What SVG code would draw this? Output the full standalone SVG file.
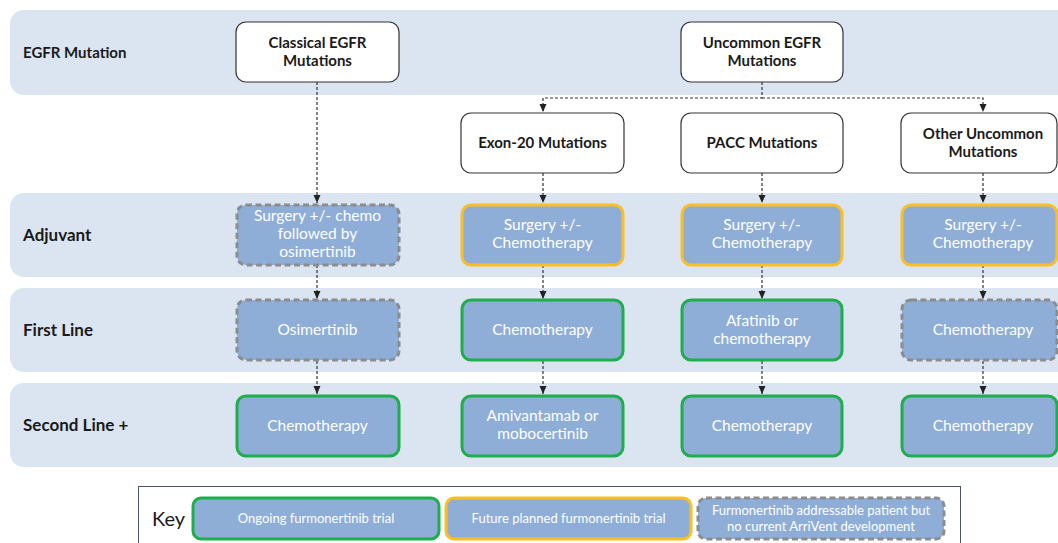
<svg xmlns="http://www.w3.org/2000/svg" width="1058" height="543" viewBox="0 0 1058 543">
<defs>
<style>
.band{fill:#dbe5f1}
.lbl{font-family:Lato,"Liberation Sans",sans-serif;font-weight:bold;fill:#1a1a1a}
.hdr{fill:#ffffff;stroke:#333333;stroke-width:1.2}
.htx{font-family:Lato,"Liberation Sans",sans-serif;font-weight:bold;font-size:15px;fill:#1a1a1a;text-anchor:middle}
.bx{fill:#8eaed8;stroke-width:3}
.g{stroke:#1fae4b}
.o{stroke:#fbbf24}
.d{stroke:#8c8c8c;stroke-dasharray:6 3.5}
.btx{font-family:Lato,"Liberation Sans",sans-serif;font-size:15.5px;fill:#ffffff;text-anchor:middle}
.ktx{font-family:Lato,"Liberation Sans",sans-serif;font-size:13px;fill:#ffffff;text-anchor:middle}
.con{fill:none;stroke:#333333;stroke-width:1.2;stroke-dasharray:3 2}
</style>
<marker id="ah" viewBox="0 0 8 8" refX="8" refY="4" markerWidth="8" markerHeight="8" markerUnits="userSpaceOnUse" orient="auto">
<path d="M0,0.5 L8,4 L0,7.5 z" fill="#222222"/>
</marker>
</defs>
<rect width="1058" height="543" fill="#ffffff"/>

<g id="bands">
<rect class="band" x="10" y="10" width="1070" height="85" rx="14"/>
<rect class="band" x="10" y="193" width="1070" height="84" rx="14"/>
<rect class="band" x="10" y="288" width="1070" height="84" rx="14"/>
<rect class="band" x="10" y="383" width="1070" height="84" rx="14"/>
<text class="lbl" x="23" y="58" font-size="15">EGFR Mutation</text>
<text class="lbl" x="23" y="241" font-size="17">Adjuvant</text>
<text class="lbl" x="23" y="336" font-size="17">First Line</text>
<text class="lbl" x="23" y="431" font-size="17">Second Line +</text>
</g>

<g id="connectors">
<path class="con" d="M317,82 V203" marker-end="url(#ah)"/>
<path class="con" d="M317,265 V299" marker-end="url(#ah)"/>
<path class="con" d="M317,361 V394" marker-end="url(#ah)"/>
<path class="con" d="M762,82 V98 H543 V112" marker-end="url(#ah)"/>
<path class="con" d="M762,98 H983 V112" marker-end="url(#ah)"/>
<path class="con" d="M543,173 V203" marker-end="url(#ah)"/>
<path class="con" d="M543,265 V299" marker-end="url(#ah)"/>
<path class="con" d="M543,361 V394" marker-end="url(#ah)"/>
<path class="con" d="M762,173 V203" marker-end="url(#ah)"/>
<path class="con" d="M762,265 V299" marker-end="url(#ah)"/>
<path class="con" d="M762,361 V394" marker-end="url(#ah)"/>
<path class="con" d="M983,173 V203" marker-end="url(#ah)"/>
<path class="con" d="M983,265 V299" marker-end="url(#ah)"/>
<path class="con" d="M983,361 V394" marker-end="url(#ah)"/>
</g>

<g id="classical">
<rect class="hdr" x="236" y="22" width="163" height="60" rx="10"/>
<text class="htx" x="317.5" y="48">Classical EGFR</text>
<text class="htx" x="317.5" y="66">Mutations</text>
</g>
<g id="uncommon">
<rect class="hdr" x="681" y="22" width="162" height="60" rx="10"/>
<text class="htx" x="762" y="48">Uncommon EGFR</text>
<text class="htx" x="762" y="66">Mutations</text>
</g>
<g id="exon20">
<rect class="hdr" x="461" y="113" width="163" height="60" rx="10"/>
<text class="htx" x="542.5" y="148">Exon-20 Mutations</text>
</g>
<g id="pacc">
<rect class="hdr" x="681" y="113" width="162" height="60" rx="10"/>
<text class="htx" x="762" y="148">PACC Mutations</text>
</g>
<g id="other">
<rect class="hdr" x="901" y="113" width="156" height="60" rx="10"/>
<text class="htx" x="983" y="139">Other Uncommon</text>
<text class="htx" x="983" y="157">Mutations</text>
</g>

<g id="c1-adj">
<rect class="bx d" x="237" y="205" width="162" height="60" rx="9"/>
<text class="btx" x="317.5" y="221">Surgery +/- chemo</text>
<text class="btx" x="317.5" y="239">followed by</text>
<text class="btx" x="317.5" y="257">osimertinib</text>
</g>
<g id="c1-first">
<rect class="bx d" x="237" y="300" width="162" height="60" rx="9"/>
<text class="btx" x="317.5" y="335">Osimertinib</text>
</g>
<g id="c1-second">
<rect class="bx g" x="237" y="396" width="162" height="60" rx="9"/>
<text class="btx" x="317.5" y="431">Chemotherapy</text>
</g>

<g id="c2-adj">
<rect class="bx o" x="462" y="205" width="161" height="60" rx="9"/>
<text class="btx" x="542.5" y="230">Surgery +/-</text>
<text class="btx" x="542.5" y="248">Chemotherapy</text>
</g>
<g id="c2-first">
<rect class="bx g" x="462" y="300" width="161" height="60" rx="9"/>
<text class="btx" x="542.5" y="335">Chemotherapy</text>
</g>
<g id="c2-second">
<rect class="bx g" x="462" y="396" width="161" height="60" rx="9"/>
<text class="btx" x="542.5" y="421">Amivantamab or</text>
<text class="btx" x="542.5" y="439">mobocertinib</text>
</g>

<g id="c3-adj">
<rect class="bx o" x="682" y="205" width="160" height="60" rx="9"/>
<text class="btx" x="762" y="230">Surgery +/-</text>
<text class="btx" x="762" y="248">Chemotherapy</text>
</g>
<g id="c3-first">
<rect class="bx g" x="682" y="300" width="160" height="60" rx="9"/>
<text class="btx" x="762" y="326">Afatinib or</text>
<text class="btx" x="762" y="344">chemotherapy</text>
</g>
<g id="c3-second">
<rect class="bx g" x="682" y="396" width="160" height="60" rx="9"/>
<text class="btx" x="762" y="431">Chemotherapy</text>
</g>

<g id="c4-adj">
<rect class="bx o" x="902" y="205" width="155" height="60" rx="9"/>
<text class="btx" x="983" y="230">Surgery +/-</text>
<text class="btx" x="983" y="248">Chemotherapy</text>
</g>
<g id="c4-first">
<rect class="bx d" x="902" y="300" width="155" height="60" rx="9"/>
<text class="btx" x="983" y="335">Chemotherapy</text>
</g>
<g id="c4-second">
<rect class="bx g" x="902" y="396" width="155" height="60" rx="9"/>
<text class="btx" x="983" y="431">Chemotherapy</text>
</g>

<g id="key">
<rect x="138.5" y="486.5" width="822" height="70" fill="#ffffff" stroke="#4a5568" stroke-width="1"/>
<text x="152" y="526" font-family="Lato,'Liberation Sans',sans-serif" font-size="20" fill="#1a1a1a">Key</text>
<rect class="bx g" x="193" y="498" width="246" height="41" rx="8"/>
<text class="ktx" x="316" y="523">Ongoing furmonertinib trial</text>
<rect class="bx o" x="446" y="498" width="245" height="41" rx="8"/>
<text class="ktx" x="568.5" y="523">Future planned furmonertinib trial</text>
<rect class="bx d" x="698" y="498" width="246" height="41" rx="8"/>
<text class="ktx" x="821" y="515">Furmonertinib addressable patient but</text>
<text class="ktx" x="821" y="531">no current ArriVent development</text>
</g>
</svg>
